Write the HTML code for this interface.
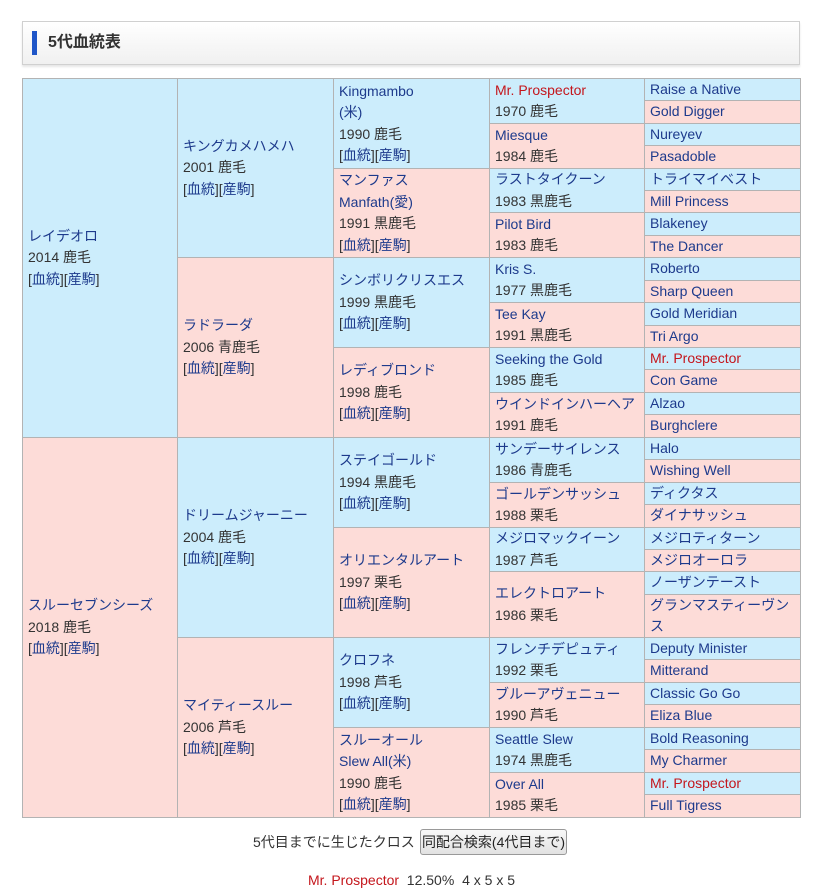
<!DOCTYPE html>
<html><head><meta charset="utf-8">
<style>
body{margin:0;width:816px;height:894px;background:#fff;position:relative;font-family:"Liberation Sans","Noto Sans CJK JP",sans-serif;font-size:14px;color:#333;overflow:hidden}
.hd{position:absolute;left:22px;top:21px;width:776px;height:42px;border:1px solid #d0d0d0;background:linear-gradient(#fff,#f0f0f0);box-shadow:0 2px 2px #e6e6e6}
.hd .bar{position:absolute;left:9px;top:9px;width:5px;height:24px;background:#1f56c8}
.hd .t{position:absolute;left:25px;top:0;line-height:42px;font-size:16px;font-weight:bold;color:#333}
.tb{position:absolute;left:22px;top:78px;width:779px;height:740px;background:#b3b3b3}
.c{position:absolute;box-sizing:border-box;padding-left:5px;display:flex;flex-direction:column;justify-content:center;line-height:21.5px;overflow:hidden}
.b{background:#ccedfc}.p{background:#fddcd8}
a{color:#1d3a8c;text-decoration:none}
.r{color:#c4161c}
.btn{position:absolute;left:420px;top:829px;width:147px;height:26px;border:1px solid #999;border-radius:3px;background:linear-gradient(#f8f8f8,#e2e2e2);box-sizing:border-box;text-align:center;line-height:24px;font-size:14px;color:#222}
</style></head><body>
<div class="hd"><div class="bar"></div><div class="t">5代血統表</div></div>
<div class="tb">
<!-- gen1 -->
<div class="c b" style="left:1px;top:1px;width:154px;height:358px"><div><a>レイデオロ</a><br>2014 鹿毛<br>[<a>血統</a>][<a>産駒</a>]</div></div>
<div class="c p" style="left:1px;top:360px;width:154px;height:379px"><div><a>スルーセブンシーズ</a><br>2018 鹿毛<br>[<a>血統</a>][<a>産駒</a>]</div></div>
<!-- gen2 -->
<div class="c b" style="left:156px;top:1px;width:155px;height:178px"><div><a>キングカメハメハ</a><br>2001 鹿毛<br>[<a>血統</a>][<a>産駒</a>]</div></div>
<div class="c p" style="left:156px;top:180px;width:155px;height:179px"><div><a>ラドラーダ</a><br>2006 青鹿毛<br>[<a>血統</a>][<a>産駒</a>]</div></div>
<div class="c b" style="left:156px;top:360px;width:155px;height:199px"><div><a>ドリームジャーニー</a><br>2004 鹿毛<br>[<a>血統</a>][<a>産駒</a>]</div></div>
<div class="c p" style="left:156px;top:560px;width:155px;height:179px"><div><a>マイティースルー</a><br>2006 芦毛<br>[<a>血統</a>][<a>産駒</a>]</div></div>
<!-- gen3 -->
<div class="c b" style="left:312px;top:1px;width:155px;height:89px"><div><a>Kingmambo<br>(米)</a><br>1990 鹿毛<br>[<a>血統</a>][<a>産駒</a>]</div></div>
<div class="c p" style="left:312px;top:91px;width:155px;height:88px"><div><a>マンファス<br>Manfath(愛)</a><br>1991 黒鹿毛<br>[<a>血統</a>][<a>産駒</a>]</div></div>
<div class="c b" style="left:312px;top:180px;width:155px;height:89px"><div><a>シンボリクリスエス</a><br>1999 黒鹿毛<br>[<a>血統</a>][<a>産駒</a>]</div></div>
<div class="c p" style="left:312px;top:270px;width:155px;height:89px"><div><a>レディブロンド</a><br>1998 鹿毛<br>[<a>血統</a>][<a>産駒</a>]</div></div>
<div class="c b" style="left:312px;top:360px;width:155px;height:89px"><div><a>ステイゴールド</a><br>1994 黒鹿毛<br>[<a>血統</a>][<a>産駒</a>]</div></div>
<div class="c p" style="left:312px;top:450px;width:155px;height:109px"><div><a>オリエンタルアート</a><br>1997 栗毛<br>[<a>血統</a>][<a>産駒</a>]</div></div>
<div class="c b" style="left:312px;top:560px;width:155px;height:89px"><div><a>クロフネ</a><br>1998 芦毛<br>[<a>血統</a>][<a>産駒</a>]</div></div>
<div class="c p" style="left:312px;top:650px;width:155px;height:89px"><div><a>スルーオール<br>Slew All(米)</a><br>1990 鹿毛<br>[<a>血統</a>][<a>産駒</a>]</div></div>
<!-- gen4 -->
<div class="c b" style="left:468px;top:1px;width:154px;height:44px"><div><a class="r">Mr. Prospector</a><br>1970 鹿毛</div></div>
<div class="c p" style="left:468px;top:46px;width:154px;height:44px"><div><a>Miesque</a><br>1984 鹿毛</div></div>
<div class="c b" style="left:468px;top:91px;width:154px;height:43px"><div><a>ラストタイクーン</a><br>1983 黒鹿毛</div></div>
<div class="c p" style="left:468px;top:135px;width:154px;height:44px"><div><a>Pilot Bird</a><br>1983 鹿毛</div></div>
<div class="c b" style="left:468px;top:180px;width:154px;height:44px"><div><a>Kris S.</a><br>1977 黒鹿毛</div></div>
<div class="c p" style="left:468px;top:225px;width:154px;height:44px"><div><a>Tee Kay</a><br>1991 黒鹿毛</div></div>
<div class="c b" style="left:468px;top:270px;width:154px;height:44px"><div><a>Seeking the Gold</a><br>1985 鹿毛</div></div>
<div class="c p" style="left:468px;top:315px;width:154px;height:44px"><div><a>ウインドインハーヘア</a><br>1991 鹿毛</div></div>
<div class="c b" style="left:468px;top:360px;width:154px;height:44px"><div><a>サンデーサイレンス</a><br>1986 青鹿毛</div></div>
<div class="c p" style="left:468px;top:405px;width:154px;height:44px"><div><a>ゴールデンサッシュ</a><br>1988 栗毛</div></div>
<div class="c b" style="left:468px;top:450px;width:154px;height:43px"><div><a>メジロマックイーン</a><br>1987 芦毛</div></div>
<div class="c p" style="left:468px;top:494px;width:154px;height:65px"><div><a>エレクトロアート</a><br>1986 栗毛</div></div>
<div class="c b" style="left:468px;top:560px;width:154px;height:44px"><div><a>フレンチデピュティ</a><br>1992 栗毛</div></div>
<div class="c p" style="left:468px;top:605px;width:154px;height:44px"><div><a>ブルーアヴェニュー</a><br>1990 芦毛</div></div>
<div class="c b" style="left:468px;top:650px;width:154px;height:44px"><div><a>Seattle Slew</a><br>1974 黒鹿毛</div></div>
<div class="c p" style="left:468px;top:695px;width:154px;height:44px"><div><a>Over All</a><br>1985 栗毛</div></div>
<!-- gen5 -->
<div class="c b" style="left:623px;top:1px;width:155px;height:21px"><a>Raise a Native</a></div>
<div class="c p" style="left:623px;top:23px;width:155px;height:22px"><a>Gold Digger</a></div>
<div class="c b" style="left:623px;top:46px;width:155px;height:21px"><a>Nureyev</a></div>
<div class="c p" style="left:623px;top:68px;width:155px;height:22px"><a>Pasadoble</a></div>
<div class="c b" style="left:623px;top:91px;width:155px;height:21px"><a>トライマイベスト</a></div>
<div class="c p" style="left:623px;top:113px;width:155px;height:21px"><a>Mill Princess</a></div>
<div class="c b" style="left:623px;top:135px;width:155px;height:22px"><a>Blakeney</a></div>
<div class="c p" style="left:623px;top:158px;width:155px;height:21px"><a>The Dancer</a></div>
<div class="c b" style="left:623px;top:180px;width:155px;height:22px"><a>Roberto</a></div>
<div class="c p" style="left:623px;top:203px;width:155px;height:21px"><a>Sharp Queen</a></div>
<div class="c b" style="left:623px;top:225px;width:155px;height:22px"><a>Gold Meridian</a></div>
<div class="c p" style="left:623px;top:248px;width:155px;height:21px"><a>Tri Argo</a></div>
<div class="c b" style="left:623px;top:270px;width:155px;height:21px"><a class="r">Mr. Prospector</a></div>
<div class="c p" style="left:623px;top:292px;width:155px;height:22px"><a>Con Game</a></div>
<div class="c b" style="left:623px;top:315px;width:155px;height:21px"><a>Alzao</a></div>
<div class="c p" style="left:623px;top:337px;width:155px;height:22px"><a>Burghclere</a></div>
<div class="c b" style="left:623px;top:360px;width:155px;height:21px"><a>Halo</a></div>
<div class="c p" style="left:623px;top:382px;width:155px;height:22px"><a>Wishing Well</a></div>
<div class="c b" style="left:623px;top:405px;width:155px;height:21px"><a>ディクタス</a></div>
<div class="c p" style="left:623px;top:427px;width:155px;height:22px"><a>ダイナサッシュ</a></div>
<div class="c b" style="left:623px;top:450px;width:155px;height:21px"><a>メジロティターン</a></div>
<div class="c p" style="left:623px;top:472px;width:155px;height:21px"><a>メジロオーロラ</a></div>
<div class="c b" style="left:623px;top:494px;width:155px;height:22px"><a>ノーザンテースト</a></div>
<div class="c p" style="left:623px;top:517px;width:155px;height:42px"><div><a>グランマスティーヴン<br>ス</a></div></div>
<div class="c b" style="left:623px;top:560px;width:155px;height:21px"><a>Deputy Minister</a></div>
<div class="c p" style="left:623px;top:582px;width:155px;height:22px"><a>Mitterand</a></div>
<div class="c b" style="left:623px;top:605px;width:155px;height:21px"><a>Classic Go Go</a></div>
<div class="c p" style="left:623px;top:627px;width:155px;height:22px"><a>Eliza Blue</a></div>
<div class="c b" style="left:623px;top:650px;width:155px;height:21px"><a>Bold Reasoning</a></div>
<div class="c p" style="left:623px;top:672px;width:155px;height:22px"><a>My Charmer</a></div>
<div class="c b" style="left:623px;top:695px;width:155px;height:21px"><a class="r">Mr. Prospector</a></div>
<div class="c p" style="left:623px;top:717px;width:155px;height:22px"><a>Full Tigress</a></div>
</div>
<div style="position:absolute;left:253px;top:832px;line-height:20px">5代目までに生じたクロス</div>
<div class="btn">同配合検索(4代目まで)</div>
<div style="position:absolute;left:308px;top:870px;line-height:20px;white-space:pre"><span class="r">Mr. Prospector</span>  12.50%  4 x 5 x 5</div>
</body></html>
